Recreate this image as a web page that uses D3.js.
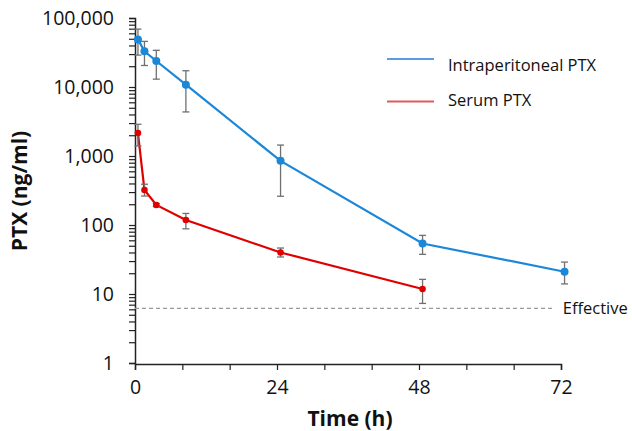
<!DOCTYPE html>
<html>
<head>
<meta charset="utf-8">
<script src="https://cdn.jsdelivr.net/npm/d3@7"></script>
<style>
  body { margin: 0; background: #fff; }
  text { font-family: "Open Sans", Lato, sans-serif; fill: #111; }
</style>
</head>
<body>
<div id="chart"></div>
<script>
// Intraperitoneal PTX (blue) - time (h), mean, lower, upper
const ipTimes = [0.5, 1.6, 3.6, 8.6, 24.6, 48.6, 72.6];
const ipMean  = [49000, 33000, 23800, 10800, 850, 54, 21];
const ipLow   = [29000, 20500, 13000, 4350, 261, 37.6, 14];
const ipHigh  = [69000, 45800, 34000, 17200, 1440, 70.7, 29];

// Serum PTX (red)
const serumTimes = [0.5, 1.6, 3.6, 8.6, 24.6, 48.6];
const serumMean  = [2150, 321, 195, 118, 40, 11.8];
const serumLow   = [1400, 263, 185, 88, 34.4, 7.3];
const serumHigh  = [2880, 390, 205, 147, 46.4, 16.3];

const effectiveLevel = 6.2;
const xTicks = [0, 8, 16, 24, 32, 40, 48, 56, 64, 72];
const xTickLabels = [0, 24, 48, 72];
const yDecades = [1, 10, 100, 1000, 10000, 100000];

const width = 632;
const height = 431;
const margin = {left: 135, right: 71, top: 18, bottom: 68};

const blue = "#1a87d9";
const red = "#e00000";

const svg = d3.select("#chart")
    .append("svg")
    .attr("width", width)
    .attr("height", height);

const x = d3.scaleLinear()
    .domain([0, 72])
    .range([margin.left, width - margin.right]);

const y = d3.scaleLog()
    .domain([1, 100000])
    .range([height - margin.bottom, margin.top]);

// minor log ticks 1..9 per decade
const yTickVals = [];
yDecades.forEach(d => {
    for (let k = 1; k <= 9; k++) {
        const v = d * k;
        if (v <= 100000) yTickVals.push(v);
    }
});

// Y axis
const yAxis = svg.append("g")
    .attr("transform", `translate(${margin.left},0)`)
    .call(d3.axisLeft(y)
        .tickValues(yTickVals)
        .tickSize(6)
        .tickPadding(15)
        .tickFormat(d => yDecades.includes(d) ? d3.format(",")(d) : ""));
yAxis.select(".domain").attr("stroke", "#222").attr("stroke-width", 1.5);
yAxis.selectAll(".tick line").attr("stroke", "#222").attr("stroke-width", 1.2);
yAxis.selectAll(".tick text")
    .style("font-size", "19.5px")
    .attr("fill", "#111");

// X axis
const xAxis = svg.append("g")
    .attr("transform", `translate(0,${height - margin.bottom + 1})`)
    .call(d3.axisBottom(x)
        .tickValues(xTicks)
        .tickSize(6)
        .tickPadding(10)
        .tickFormat(d => xTickLabels.includes(d) ? d : ""));
xAxis.select(".domain").attr("stroke", "#222").attr("stroke-width", 1.5);
xAxis.selectAll(".tick line").attr("stroke", "#222").attr("stroke-width", 1.2);
xAxis.selectAll(".tick text")
    .style("font-size", "19.5px")
    .attr("fill", "#111");

// Axis titles
svg.append("text")
    .attr("x", x(36) + 2)
    .attr("y", 426)
    .attr("text-anchor", "middle")
    .style("font-size", "21px")
    .style("font-weight", "bold")
    .text("Time (h)");

svg.append("text")
    .attr("transform", "translate(27,191)rotate(-90)")
    .attr("text-anchor", "middle")
    .style("font-size", "21px")
    .style("font-weight", "bold")
    .text("PTX (ng/ml)");

// Effective threshold line
svg.append("line")
    .attr("x1", x(0))
    .attr("x2", x(71))
    .attr("y1", y(effectiveLevel))
    .attr("y2", y(effectiveLevel))
    .attr("stroke", "#999")
    .attr("stroke-width", 1.2)
    .attr("stroke-dasharray", "4,3");
svg.append("text")
    .attr("x", x(72.3))
    .attr("y", y(effectiveLevel) + 6)
    .style("font-size", "16.5px")
    .text("Effective");

// Draw a series with error bars
function drawSeries(times, mean, low, high, color, r) {
    const pts = times.map((t, i) => ({t: t, m: mean[i], lo: low[i], hi: high[i]}));
    const g = svg.append("g");

    const line = d3.line()
        .x(d => x(d.t))
        .y(d => y(d.m));
    g.append("path")
        .datum(pts)
        .attr("d", line)
        .attr("fill", "none")
        .attr("stroke", color)
        .attr("stroke-width", 2.2);

    const bars = g.selectAll(".err")
        .data(pts)
        .enter().append("g")
        .attr("stroke", "#707070")
        .attr("stroke-width", 1.3);
    bars.append("line")
        .attr("x1", d => x(d.t)).attr("x2", d => x(d.t))
        .attr("y1", d => y(d.lo)).attr("y2", d => y(d.hi));
    bars.append("line")
        .attr("x1", d => x(d.t) - 3.5).attr("x2", d => x(d.t) + 3.5)
        .attr("y1", d => y(d.lo)).attr("y2", d => y(d.lo));
    bars.append("line")
        .attr("x1", d => x(d.t) - 3.5).attr("x2", d => x(d.t) + 3.5)
        .attr("y1", d => y(d.hi)).attr("y2", d => y(d.hi));

    g.selectAll("circle")
        .data(pts)
        .enter().append("circle")
        .attr("cx", d => x(d.t))
        .attr("cy", d => y(d.m))
        .attr("r", r)
        .attr("fill", color);
}

drawSeries(ipTimes, ipMean, ipLow, ipHigh, blue, 4);
drawSeries(serumTimes, serumMean, serumLow, serumHigh, red, 3.3);

// Legend
const legendItems = [
    {label: "Intraperitoneal PTX", color: "#5a9de0", y: 59, base: 71},
    {label: "Serum PTX", color: "#e05a5a", y: 101.5, base: 106}
];
const legend = svg.append("g");
legendItems.forEach(item => {
    legend.append("line")
        .attr("x1", 387).attr("x2", 434)
        .attr("y1", item.y).attr("y2", item.y)
        .attr("stroke", item.color)
        .attr("stroke-width", 2);
    legend.append("text")
        .attr("x", 448)
        .attr("y", item.base)
        .style("font-size", "16.5px")
        .text(item.label);
});
</script>
</body>
</html>
